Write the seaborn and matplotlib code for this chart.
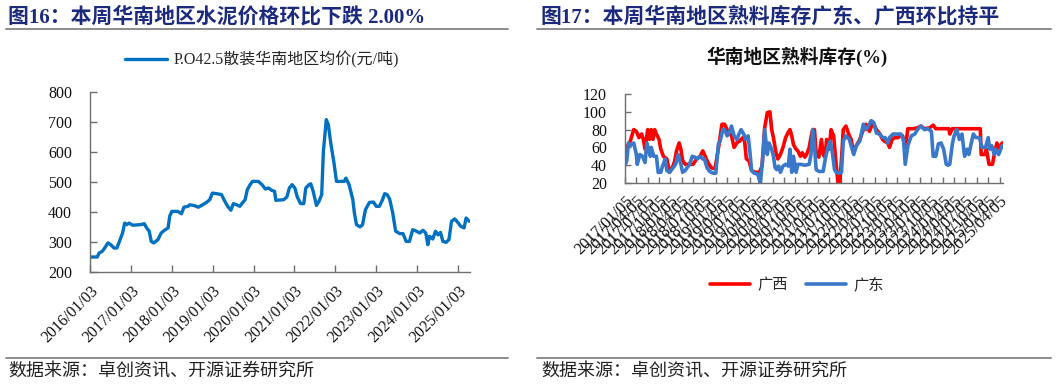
import numpy as np
import pandas as pd
import matplotlib.pyplot as plt
from matplotlib.lines import Line2D
import seaborn as sns

# 图16 P.O42.5散装华南地区均价(元/吨)
price_dates = [
    "2016-01-03", "2016-03-08", "2016-03-24", "2016-04-22", "2016-05-13", "2016-06-12",
    "2016-07-06", "2016-08-05", "2016-08-30", "2016-09-19", "2016-10-20", "2016-11-08",
    "2016-11-26", "2016-12-18", "2017-01-18", "2017-04-03", "2017-05-02", "2017-05-23",
    "2017-06-15", "2017-07-03", "2017-07-26", "2017-09-01", "2017-09-30", "2017-10-29",
    "2017-12-01", "2017-12-15", "2018-01-03", "2018-02-26", "2018-03-30", "2018-04-21",
    "2018-05-28", "2018-06-12", "2018-07-26", "2018-08-28", "2018-09-26", "2018-11-09",
    "2018-12-08", "2018-12-31", "2019-02-08", "2019-03-23", "2019-04-14", "2019-05-17",
    "2019-06-15", "2019-07-07", "2019-08-05", "2019-09-03", "2019-09-25", "2019-10-20",
    "2019-11-08", "2019-12-03", "2019-12-25", "2020-02-15", "2020-03-19", "2020-04-17",
    "2020-05-16", "2020-06-14", "2020-07-09", "2020-07-20", "2020-09-28", "2020-10-27",
    "2020-11-18", "2020-12-13", "2021-01-06", "2021-01-28", "2021-02-26", "2021-03-27",
    "2021-04-14", "2021-05-13", "2021-05-28", "2021-06-19", "2021-07-18", "2021-08-09",
    "2021-09-03", "2021-09-18", "2021-10-14", "2021-11-01", "2021-11-23", "2021-12-22",
    "2022-01-13", "2022-03-23", "2022-04-07", "2022-05-06", "2022-06-08", "2022-06-22",
    "2022-07-11", "2022-08-12", "2022-09-03", "2022-09-29", "2022-11-04", "2022-12-10",
    "2023-01-03", "2023-02-01", "2023-02-26", "2023-03-20", "2023-04-11", "2023-05-03",
    "2023-05-28", "2023-06-26", "2023-08-01", "2023-08-30", "2023-09-28", "2023-10-27",
    "2023-11-25", "2023-12-29", "2024-01-27", "2024-02-25", "2024-03-21", "2024-04-08",
    "2024-04-23", "2024-05-22", "2024-06-16", "2024-07-08", "2024-07-30", "2024-08-21",
    "2024-09-19", "2024-10-14", "2024-11-06", "2024-12-05", "2025-01-06", "2025-01-28",
    "2025-02-26", "2025-03-16", "2025-04-14",
]
price_values = [
    250, 250, 263, 269, 280, 297,
    291, 280, 280, 299, 330, 363,
    358, 363, 356, 358, 361, 347,
    336, 302, 297, 308, 330, 339,
    347, 386, 402, 402, 394, 416,
    419, 424, 421, 416, 422, 432,
    441, 463, 461, 458, 441, 419,
    406, 428, 424, 419, 430, 441,
    474, 491, 502, 502, 491, 477,
    480, 472, 469, 439, 441, 450,
    480, 491, 480, 450, 428, 428,
    480, 491, 494, 469, 422, 435,
    458, 602, 708, 691, 630, 563,
    502, 502, 513, 491, 441, 397,
    358, 350, 358, 408, 432, 433,
    419, 419, 439, 461, 458, 443,
    402, 336, 328, 328, 302, 302,
    341, 336, 330, 339, 330, 291,
    319, 310, 336, 324, 332, 302,
    299, 308, 369, 377, 363, 352,
    347, 380, 369,
]
price_ticks = ["2016/01/03", "2017/01/03", "2018/01/03", "2019/01/03", "2020/01/03",
               "2021/01/03", "2022/01/03", "2023/01/03", "2024/01/03", "2025/01/03"]

# 图17 华南地区熟料库存(%)，x 为自 2017/01/05 起的周序号
gx_week = [0, 3, 6, 10, 13, 16, 19, 21, 23, 26, 28, 30, 32, 34, 36, 39, 41, 44, 48, 51,
           55, 57, 59, 62, 64, 66, 69, 74, 78, 82, 86, 89, 91, 95, 99, 103, 105, 108, 111, 114,
           118, 122, 125, 128, 131, 135, 137, 139, 142, 145, 149, 154, 157, 160, 163, 166, 168, 170, 173, 175,
           178, 181, 184, 187, 189, 191, 193, 196, 198, 201, 203, 206, 208, 211, 213, 215, 217, 219, 222, 225,
           227, 229, 231, 234, 236, 239, 242, 244, 246, 248, 250, 253, 257, 259, 262, 265, 269, 273, 276, 280,
           284, 288, 292, 295, 297, 301, 303, 306, 309, 313, 315, 318, 321, 324, 330, 335, 339, 343, 349, 353,
           356, 364, 371, 372, 375, 387, 398, 407, 408, 412, 414, 417, 421, 423, 426, 429, 432]
gx_values = [40, 62, 67, 80, 78, 71, 75, 69, 58, 80, 69, 80, 69, 80, 75, 69, 58, 50, 47, 32,
             39, 45, 56, 65, 58, 45, 41, 41, 41, 47, 50, 56, 52, 43, 37, 36, 47, 65, 86, 86,
             78, 73, 60, 65, 67, 71, 67, 47, 45, 34, 32, 32, 39, 82, 99, 100, 80, 71, 54, 47,
             52, 60, 71, 77, 80, 73, 63, 58, 56, 50, 54, 49, 52, 60, 71, 80, 80, 54, 49, 69,
             52, 49, 69, 58, 80, 73, 39, 20, 20, 47, 80, 84, 73, 69, 54, 62, 69, 80, 86, 78,
             88, 80, 75, 69, 67, 65, 60, 69, 71, 71, 73, 73, 58, 81, 81, 82, 84, 81, 82, 85,
             81, 81, 81, 75, 81, 81, 81, 81, 52, 52, 58, 41, 41, 52, 65, 58, 65]

gd_week = [0, 2, 4, 6, 10, 13, 14, 17, 20, 23, 25, 27, 29, 30, 33, 36, 38, 41, 43, 46,
           48, 51, 55, 58, 61, 64, 66, 69, 71, 74, 77, 80, 83, 86, 89, 91, 94, 97, 101, 104,
           107, 109, 112, 114, 117, 120, 122, 125, 128, 131, 133, 136, 138, 141, 143, 145, 148, 152, 155, 158,
           160, 163, 165, 168, 170, 172, 174, 176, 178, 181, 184, 187, 189, 191, 193, 196, 198, 201, 206, 211,
           213, 215, 217, 219, 222, 227, 230, 233, 235, 237, 240, 242, 245, 248, 250, 253, 257, 259, 262, 265,
           269, 273, 276, 279, 282, 285, 288, 292, 295, 298, 301, 303, 307, 311, 316, 319, 321, 324, 328, 332,
           335, 339, 343, 347, 351, 353, 356, 359, 362, 365, 368, 370, 372, 375, 377, 380, 383, 386, 389, 392,
           394, 396, 399, 402, 406, 409, 413, 416, 418, 420, 423, 425, 428, 432]
gd_values = [40, 45, 65, 62, 65, 52, 41, 52, 50, 43, 65, 58, 50, 60, 50, 50, 32, 32, 39, 47,
             34, 32, 37, 41, 52, 41, 32, 34, 37, 41, 50, 49, 47, 50, 47, 47, 37, 33, 31, 31,
             64, 67, 80, 80, 73, 78, 84, 73, 69, 76, 80, 75, 69, 73, 56, 34, 31, 30, 20, 50,
             80, 52, 65, 58, 50, 37, 35, 39, 32, 39, 41, 39, 58, 32, 50, 32, 41, 41, 40, 41,
             52, 80, 62, 35, 33, 33, 50, 62, 67, 58, 35, 32, 31, 32, 67, 73, 69, 62, 52, 62,
             67, 86, 80, 84, 90, 88, 76, 75, 71, 71, 65, 71, 75, 75, 75, 69, 41, 62, 73, 75,
             80, 84, 80, 81, 78, 50, 50, 64, 65, 58, 41, 40, 41, 64, 73, 80, 69, 75, 50, 58,
             52, 62, 75, 71, 71, 60, 60, 71, 58, 62, 52, 58, 52, 62]
stock_ticks = pd.date_range("2017-01-01", periods=34, freq="QS").strftime("%Y/%m/05").tolist()

W, H = 1057, 386
TITLE_COLOR = "#1c2a7e"
SPINE_COLOR = "#6e6e6e"


def style_axis(ax, ticklen):
    for side in ["top", "right"]:
        ax.spines[side].set_visible(False)
    for side in ["left", "bottom"]:
        ax.spines[side].set_color(SPINE_COLOR)
        ax.spines[side].set_linewidth(1.0)
    ax.tick_params(axis="both", direction="in", length=ticklen, width=1.0,
                   color=SPINE_COLOR, labelcolor="#111111")
    ax.tick_params(axis="y", pad=13, labelsize=11.5)
    ax.tick_params(axis="x", labelsize=11.5)
    ax.set_xlabel("")
    ax.set_ylabel("")
    ax.grid(False)


def plot_charts():
    sns.set_style("ticks")
    plt.rcParams["font.family"] = ["Liberation Serif", "Noto Sans CJK SC"]
    plt.rcParams["axes.unicode_minus"] = False

    fig = plt.figure(figsize=(W / 100, H / 100), dpi=100)

    # 左图：水泥价格
    ax1 = fig.add_axes([90 / W, 1 - 272 / H, 380 / W, 180 / H])
    sns.lineplot(x=pd.to_datetime(price_dates), y=price_values, ax=ax1,
                 color="#0070C0", linewidth=2.4, label="P.O42.5散装华南地区均价(元/吨)")
    ax1.set_ylim(200, 800)
    ax1.set_yticks(np.arange(200, 801, 100))
    ax1.set_xlim(pd.Timestamp("2016-01-03"), pd.Timestamp("2025-04-20"))
    ax1.set_xticks(pd.to_datetime(price_ticks, format="%Y/%m/%d"))
    ax1.set_xticklabels(price_ticks, rotation=45, ha="right", rotation_mode="anchor")
    style_axis(ax1, 5)
    ax1.tick_params(axis="x", pad=8)
    ax1.legend(loc="center", bbox_to_anchor=(262 / W, 1 - 60 / H),
               bbox_transform=fig.transFigure, frameon=False, fontsize=11.5,
               handlelength=2.6, handletextpad=0.4)

    # 右图：熟料库存
    ax2 = fig.add_axes([625 / W, 1 - 183 / H, 378 / W, 89 / H])
    sns.lineplot(x=gx_week, y=gx_values, ax=ax2, color="#FF0000", linewidth=2.6, label="广西")
    sns.lineplot(x=gd_week, y=gd_values, ax=ax2, color="#3a78c9", linewidth=2.6, label="广东")
    ax2.set_ylim(20, 120)
    ax2.set_yticks(np.arange(20, 121, 20))
    ax2.set_xlim(0, 433)
    ax2.set_xticks(np.arange(len(stock_ticks)) * 13)
    ax2.set_xticklabels(stock_ticks, rotation=45, ha="right", rotation_mode="anchor")
    style_axis(ax2, 4)
    ax2.tick_params(axis="x", pad=7, labelsize=12)
    ax2.legend(loc="center", bbox_to_anchor=(797 / W, 1 - 285 / H),
               bbox_transform=fig.transFigure, frameon=False, fontsize=11, ncol=2,
               handlelength=2.6, handletextpad=0.5, columnspacing=1.2)
    fig.text(797 / W, 1 - 57 / H, "华南地区熟料库存(%)", ha="center", va="center",
             fontsize=13.5, fontweight="bold", color="#111111")

    # 标题、分隔线与数据来源
    fig.text(8 / W, 1 - 17 / H, "图16：本周华南地区水泥价格环比下跌 2.00%", ha="left", va="center",
             fontsize=15, fontweight="bold", color=TITLE_COLOR)
    fig.text(541 / W, 1 - 17 / H, "图17：本周华南地区熟料库存广东、广西环比持平", ha="left", va="center",
             fontsize=15, fontweight="bold", color=TITLE_COLOR)
    for x0, x1 in [(6, 508), (537, 1051)]:
        fig.add_artist(Line2D([x0 / W, x1 / W], [1 - 29 / H] * 2, color="#8c8c8c", lw=1.4))
        fig.add_artist(Line2D([x0 / W, x1 / W], [1 - 358 / H] * 2, color="#8c8c8c", lw=1.4))
    for x0 in [8, 541]:
        fig.text(x0 / W, 1 - 372 / H, "数据来源：卓创资讯、开源证券研究所", ha="left", va="center",
                 fontsize=13, color="#222222")

    fig.savefig("out.png", dpi=100)


if __name__ == "__main__":
    plot_charts()
